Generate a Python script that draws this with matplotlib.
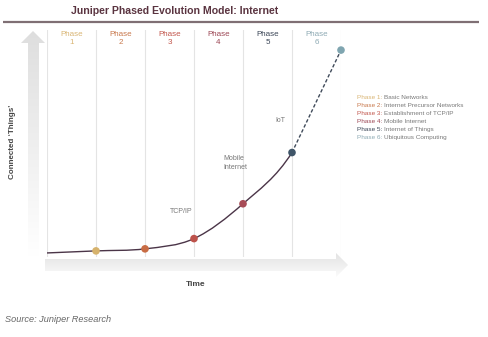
import matplotlib
matplotlib.use("Agg")
import matplotlib.pyplot as plt
import numpy as np
from matplotlib.path import Path
from matplotlib.patches import PathPatch, Polygon

plt.rcParams['font.family'] = ['Liberation Sans', 'DejaVu Sans']

W, H = 489, 337

# data
phases = [1, 2, 3, 4, 5, 6]
phase_names = ["Basic Networks", "Internet Precursor Networks", "Establishment of TCP/IP",
               "Mobile Internet", "Internet of Things", "Ubiquitous Computing"]
phase_colors = ["#d9b574", "#c8784c", "#c2564c", "#9c4654", "#3a4556", "#8eaab4"]
point_colors = ["#d6b26c", "#c86c44", "#bd524b", "#a84c57", "#3f5568", "#7fa5b0"]
# connected things (arbitrary index) at start and at end of each phase
curve_x = [0, 1, 2, 3, 4, 5]
curve_y = [1, 2, 3, 8, 25, 50]
future_x = [5, 6]
future_y = [50, 100]
labels = {"TCP/IP": (2.73, 21), "Mobile\nInternet": (3.6, 45), "IoT": (4.76, 65.5)}


def fx(x):
    return x / W


def fy(y):
    return 1 - y / H


fig = plt.figure(figsize=(W / 100, H / 100), dpi=100)
fig.patch.set_facecolor("white")

# background decoration layer in pixel coords
bg = fig.add_axes([0, 0, 1, 1], zorder=0)
bg.set_xlim(0, W)
bg.set_ylim(H, 0)
bg.axis("off")

# header rule
bg.plot([3, 479], [22, 22], color="#7f6f74", lw=1.6, solid_capstyle="butt")

# y arrow with gradient
yarrow = Polygon([(33, 31), (45, 43), (39, 43), (39, 256), (28, 256), (28, 43), (21, 43)],
                 closed=True, facecolor="none", edgecolor="none")
bg.add_patch(yarrow)
grad = np.linspace(0.87, 1.0, 256).reshape(-1, 1)
im = bg.imshow(np.dstack([grad, grad, grad]), extent=(20, 46, 256, 30), aspect="auto", zorder=1)
im.set_clip_path(yarrow)

# x arrow with gradient
xarrow = Polygon([(45, 259), (336, 259), (336, 253), (348, 265), (336, 277), (336, 271), (45, 271)],
                 closed=True, facecolor="none", edgecolor="none")
bg.add_patch(xarrow)
grad2 = np.linspace(0.89, 0.985, 256).reshape(-1, 1)
im2 = bg.imshow(np.dstack([grad2, grad2, grad2]), extent=(44, 349, 277, 253), aspect="auto", zorder=1)
im2.set_clip_path(xarrow)
bg.set_xlim(0, W)
bg.set_ylim(H, 0)

# main axes
left, right, top, bottom = 47, 341, 30, 257
ax = fig.add_axes([fx(left), fy(bottom), (right - left) / W, (bottom - top) / H], zorder=2)
ax.patch.set_alpha(0)
ax.set_xlim(0, 6)
ax.set_ylim(-0.98, 109.8)
for s in ax.spines.values():
    s.set_visible(False)
ax.set_xticks([])
ax.set_yticks([])

for b in range(0, 7):
    ax.axvline(b, color="#e4e4e4", lw=0.8, zorder=1)

for p, c in zip(phases, phase_colors):
    ax.text(p - 0.5, 109.2, f"Phase\n{p}", ha="center", va="top", fontsize=5.8,
            color=c, linespacing=1.25)

# smooth curve through the points (Catmull-Rom as cubic Bezier)
pts = np.column_stack([curve_x + [future_x[1]], curve_y + [future_y[1]]]).astype(float)
verts = [tuple(pts[0])]
codes = [Path.MOVETO]
n = len(curve_x)
for i in range(n - 1):
    p0 = pts[max(i - 1, 0)]
    p1 = pts[i]
    p2 = pts[i + 1]
    p3 = pts[min(i + 2, len(pts) - 1)]
    c1 = p1 + (p2 - p0) / 6
    c2 = p2 - (p3 - p1) / 6
    verts += [tuple(c1), tuple(c2), tuple(p2)]
    codes += [Path.CURVE4] * 3
ax.add_patch(PathPatch(Path(verts, codes), facecolor="none", edgecolor="#4b3548", lw=1.0, zorder=3))
ax.plot(future_x, future_y, color="#3f4a5a", lw=1.0, ls=(0, (2.5, 1.5)), zorder=3)

ax.scatter(curve_x[1:] + future_x[1:], curve_y[1:] + future_y[1:], s=30,
           c=point_colors, zorder=4, linewidths=0, clip_on=False)

for txt, (x, y) in labels.items():
    ha = "left" if "Mobile" in txt else "center"
    ax.text(x, y, txt, ha=ha, va="center", fontsize=5, color="#777777", linespacing=1.3)

# legend text
for i, (p, name, c) in enumerate(zip(phases, phase_names, phase_colors)):
    y = 97 + i * 8.2
    t = fig.text(fx(357), fy(y), f"Phase {p}: ", fontsize=4.6, color=c, va="center", ha="left")
    ax.annotate(name, xy=(1, 0.5), xycoords=t, va="center", ha="left",
                fontsize=4.6, color="#7a7a7a", annotation_clip=False)

# titles and labels
fig.text(fx(175), fy(11), "Juniper Phased Evolution Model: Internet", ha="center", va="center",
         fontsize=7.6, fontweight="bold", color="#5a3440")
fig.text(fx(13), fy(142), "Connected \u2018Things\u2019", rotation=90, ha="center", va="center",
         fontsize=5.8, fontweight="bold", color="#444444")
fig.text(fx(196), fy(285), "Time", ha="center", va="center", fontsize=6, fontweight="bold",
         color="#444444")
fig.text(fx(5), fy(319), "Source: Juniper Research", ha="left", va="center", fontsize=6.6,
         style="italic", color="#666666")

fig.savefig("out.png", dpi=100)
